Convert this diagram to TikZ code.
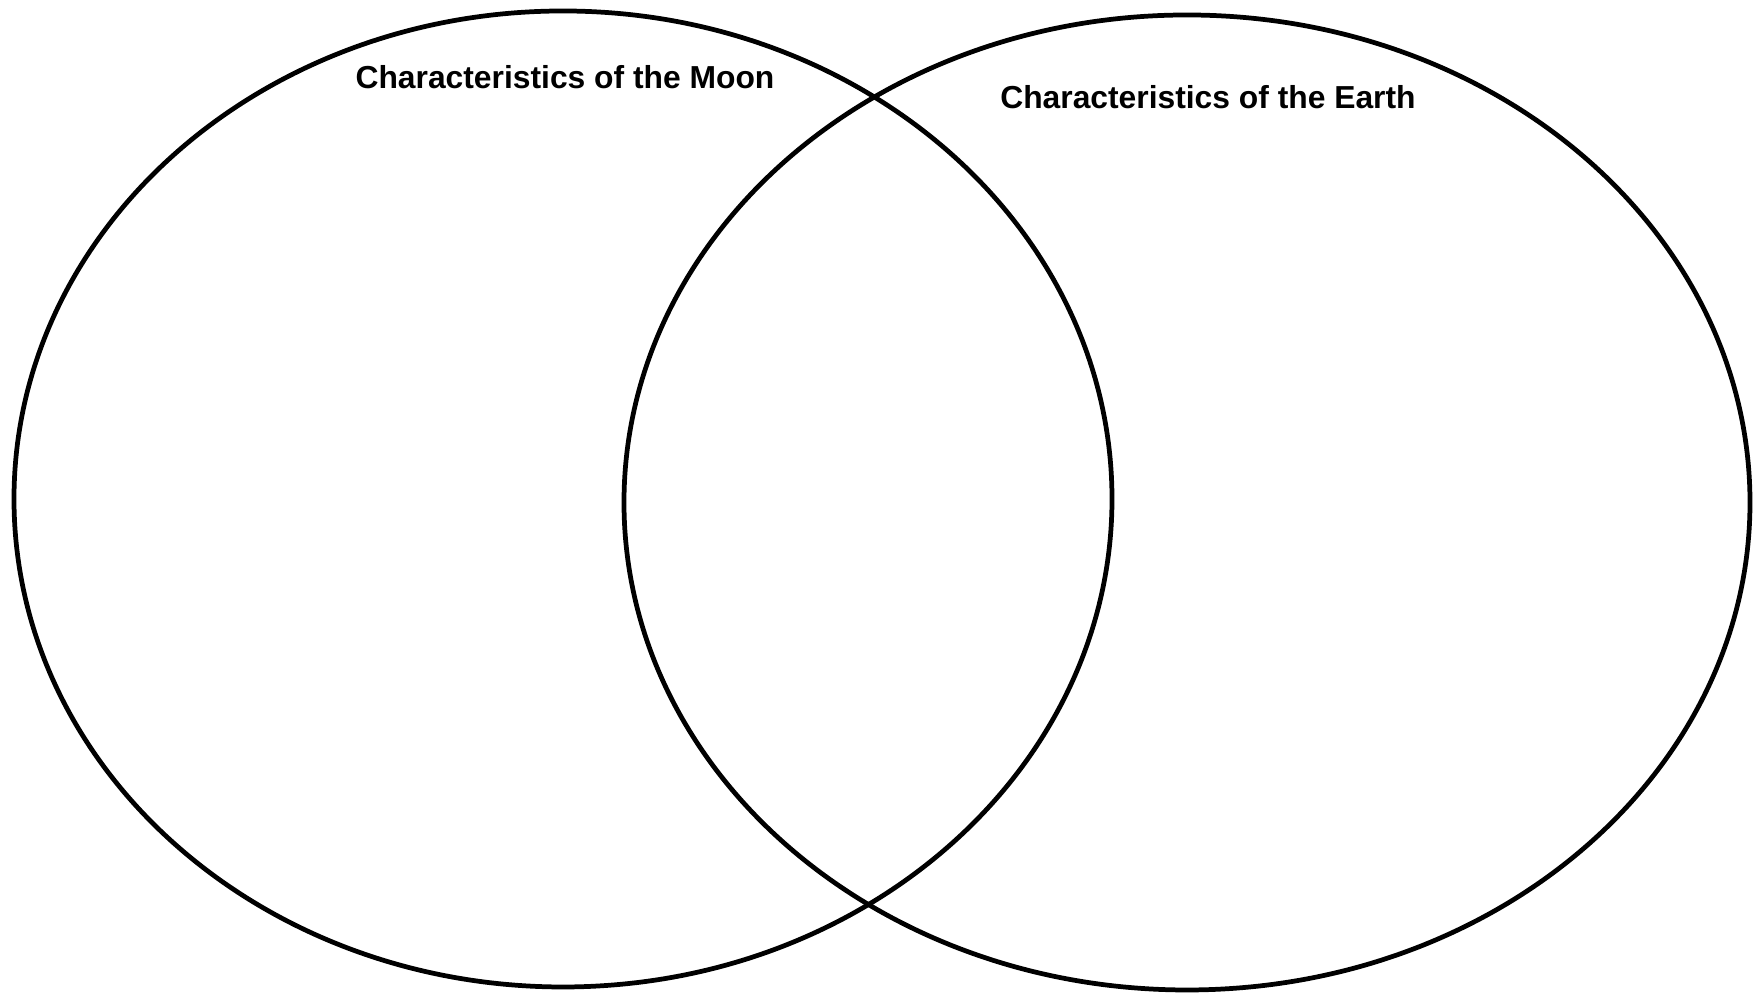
\documentclass[tikz,border=0pt]{standalone}
\usepackage{fontspec}
\setmainfont{Liberation Sans}
\usetikzlibrary{shapes.geometric}
\tikzset{
  setshape/.style={draw=black,ellipse,inner sep=0pt,line width=1.35pt},
  setlabel/.style={font=\fontsize{9.05pt}{11pt}\selectfont\bfseries,text=black,anchor=base,inner sep=0pt}
}
\begin{document}
\begin{tikzpicture}
  \useasboundingbox (0,0) rectangle (17.54,9.94);
  \node[setshape,minimum width=10.98cm,minimum height=9.76cm] (moon) at (5.63,4.95) {};
  \node[setshape,minimum width=11.26cm,minimum height=9.75cm] (earth) at (11.87,4.915) {};
  \node[setlabel] (moontitle) at (5.65,9.05) {Characteristics of the Moon};
  \node[setlabel] (earthtitle) at (12.08,8.855) {Characteristics of the Earth};
\end{tikzpicture}
\end{document}
